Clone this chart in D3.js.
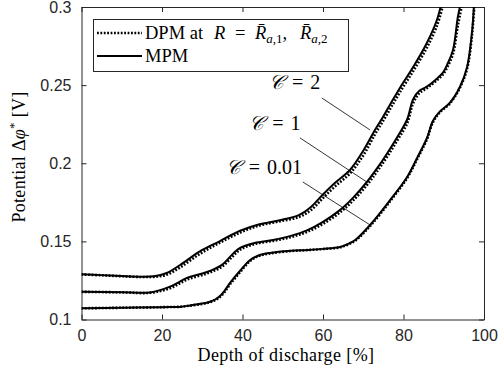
<!DOCTYPE html>
<html>
<head>
<meta charset="utf-8">
<script src="https://cdn.jsdelivr.net/npm/d3@7"></script>
<style>
  body { margin: 0; background: #fff; }
  svg { display: block; }
  .tick text { font-family: "Liberation Sans", Arial, sans-serif; font-size: 16px; fill: #262626; }
  .serif { font-family: "Liberation Serif", "DejaVu Serif", serif; fill: #000; }
</style>
</head>
<body>
<svg id="chart" width="498" height="374"></svg>
<script>
// ticks
let xTicks = [0, 20, 40, 60, 80, 100];
let yTicks = [0.1, 0.15, 0.2, 0.25, 0.3];

// MPM curves [depth %, potential V]
let mpmC2 = [[0,0.1289],[5,0.1284],[10,0.1278],[15,0.1274],[18,0.1277],[21,0.1296],[24.5,0.1349],[29.4,0.1436],[34.4,0.1502],[39.4,0.1568],[44,0.1608],[49,0.1634],[54,0.1668],[57,0.1720],[59.8,0.1795],[63,0.1875],[66.7,0.1957],[70,0.2080],[72.9,0.2213],[74.9,0.2296],[77,0.2390],[79.1,0.2482],[82.4,0.2616],[85.8,0.2770],[88.3,0.2917],[89.3,0.3010]];
let mpmC1 = [[0,0.1178],[10,0.1175],[17,0.1173],[22,0.1210],[26.2,0.1266],[31.2,0.1304],[34.9,0.1350],[37.6,0.1420],[39.4,0.1458],[43,0.1490],[47.6,0.1509],[52,0.1535],[56,0.1570],[60,0.1625],[64.2,0.1700],[67.5,0.1780],[70.9,0.1880],[73.5,0.1970],[76,0.2066],[78.5,0.2170],[80.9,0.2280],[82.4,0.2410],[84,0.2465],[85.8,0.2490],[88,0.2535],[89.8,0.2580],[91,0.2640],[92.3,0.2725],[93.5,0.2936],[94.1,0.3010]];
let mpmC001 = [[0,0.1072],[10,0.1075],[20,0.1079],[24.8,0.1082],[27,0.1090],[30,0.1102],[31.9,0.1114],[33.2,0.1128],[34.4,0.1150],[35.6,0.1186],[36.9,0.1234],[39.4,0.1312],[41.9,0.1381],[44,0.1410],[46.8,0.1426],[52,0.1440],[56,0.1445],[60,0.1452],[64.2,0.1464],[66.7,0.1490],[68,0.1509],[71.7,0.1605],[76.7,0.1765],[80.9,0.1912],[83.5,0.2040],[85.8,0.2160],[87.3,0.2270],[89,0.2330],[91.5,0.2386],[94,0.2488],[95.8,0.2616],[97,0.2834],[97.5,0.3010]];

// DPM curves
let dpmC2 = [[0,0.1288],[5,0.1283],[10,0.1277],[15,0.1272],[18,0.1273],[21,0.1285],[24.5,0.1333],[29.4,0.1420],[34.4,0.1492],[39.4,0.1556],[44,0.1600],[49,0.1627],[54,0.1656],[57,0.1700],[59.8,0.1772],[63,0.1852],[66.7,0.1935],[70,0.2050],[72.9,0.2185],[74.9,0.2270],[77,0.2362],[79.1,0.2455],[82.4,0.2590],[85.8,0.2740],[88.3,0.2880],[89.8,0.3010]];
let dpmC1 = [[0,0.1177],[10,0.1174],[17,0.1171],[22,0.1200],[26.2,0.1255],[31.2,0.1295],[34.9,0.1338],[37.6,0.1405],[39.4,0.1447],[43,0.1483],[47.6,0.1503],[52,0.1527],[56,0.1560],[60,0.1612],[64.2,0.1685],[67.5,0.1762],[70.9,0.1860],[73.5,0.1950],[76,0.2045],[78.5,0.2148],[80.9,0.2255],[82.4,0.2385],[84,0.2450],[85.8,0.2480],[88,0.2525],[89.8,0.2568],[91,0.2622],[92.3,0.2700],[93.5,0.2880],[94.5,0.3010]];
let dpmC001 = [[0,0.1072],[10,0.1075],[20,0.1079],[24.8,0.1082],[27,0.1089],[30,0.1100],[31.9,0.1111],[33.2,0.1124],[34.4,0.1144],[35.6,0.1178],[36.9,0.1225],[39.4,0.1303],[41.9,0.1375],[44,0.1406],[46.8,0.1423],[52,0.1438],[56,0.1444],[60,0.1451],[64.2,0.1462],[66.7,0.1486],[68,0.1504],[71.7,0.1598],[76.7,0.1758],[80.9,0.1905],[83.5,0.2032],[85.8,0.2152],[87.3,0.2262],[89,0.2325],[91.5,0.2382],[94,0.2482],[95.8,0.2605],[97,0.2815],[97.6,0.3010]];

// annotation labels: value text, text anchor point (end), leader line from -> to
let notes = [
  { val: '2',    tx: 59.3, ty: 0.2475, from: [59.7, 0.2418], to: [71.7, 0.2213] },
  { val: '1',    tx: 54.4, ty: 0.2215, from: [54.3, 0.2162], to: [70.9, 0.1880] },
  { val: '0.01', tx: 54.8, ty: 0.1932, from: [55.0, 0.1880], to: [71.7, 0.1605] }
];

let svg = d3.select('#chart');
let mLeft = 81.5, mRight = 484, mTop = 7, mBottom = 319.5;

let x = d3.scaleLinear().domain([0, 100]).range([mLeft, mRight]);
let y = d3.scaleLinear().domain([0.1, 0.3]).range([mBottom, mTop]);

svg.append('defs').append('clipPath').attr('id', 'clip')
  .append('rect').attr('x', mLeft).attr('y', mTop).attr('width', mRight - mLeft).attr('height', mBottom - mTop);

// axes with inward ticks, box on
let axisCol = '#262626';
let xAxis = svg.append('g').attr('transform', `translate(0,${mBottom})`)
  .call(d3.axisBottom(x).tickValues(xTicks).tickSizeInner(-5).tickSizeOuter(0).tickPadding(10).tickFormat(d3.format('d')));
let yAxis = svg.append('g').attr('transform', `translate(${mLeft},0)`)
  .call(d3.axisLeft(y).tickValues(yTicks).tickSizeInner(-5).tickSizeOuter(0).tickPadding(10).tickFormat(d => String(+d.toFixed(2))));
let xTop = svg.append('g').attr('transform', `translate(0,${mTop})`)
  .call(d3.axisTop(x).tickValues(xTicks).tickSizeInner(-5).tickSizeOuter(0).tickFormat(''));
let yRight = svg.append('g').attr('transform', `translate(${mRight},0)`)
  .call(d3.axisRight(y).tickValues(yTicks).tickSizeInner(-5).tickSizeOuter(0).tickFormat(''));
[xAxis, yAxis, xTop, yRight].forEach(g => {
  g.selectAll('path, line').attr('stroke', axisCol).attr('stroke-width', 1);
});

// curves
let lineFn = d3.line()
  .x(d => x(d[0]))
  .y(d => y(d[1]))
  .curve(d3.curveCatmullRom.alpha(0.5));

let plot = svg.append('g').attr('clip-path', 'url(#clip)');
[dpmC2, dpmC1, dpmC001].forEach(s => {
  plot.append('path').attr('d', lineFn(s))
    .attr('fill', 'none').attr('stroke', '#000')
    .attr('stroke-width', 2.6).attr('stroke-dasharray', '1.8,1.6');
});
[mpmC2, mpmC1, mpmC001].forEach(s => {
  plot.append('path').attr('d', lineFn(s))
    .attr('fill', 'none').attr('stroke', '#000')
    .attr('stroke-width', 2);
});

// annotations
notes.forEach(n => {
  svg.append('line')
    .attr('x1', x(n.from[0])).attr('y1', y(n.from[1]))
    .attr('x2', x(n.to[0])).attr('y2', y(n.to[1]))
    .attr('stroke', '#000').attr('stroke-width', 0.8);
  let t = svg.append('text').attr('class', 'serif')
    .attr('x', x(n.tx)).attr('y', y(n.ty))
    .attr('text-anchor', 'end').style('font-size', '20px');
  t.append('tspan').style('font-style', 'italic').text('𝒞');
  t.append('tspan').attr('dx', 8).text('=');
  t.append('tspan').attr('dx', 7).text(n.val);
});

// legend
let lg = svg.append('g');
lg.append('rect').attr('x', 93.5).attr('y', 19.5).attr('width', 255).attr('height', 52)
  .attr('fill', '#fff').attr('stroke', axisCol).attr('stroke-width', 1);
lg.append('line').attr('x1', 97).attr('x2', 142).attr('y1', 33).attr('y2', 33)
  .attr('stroke', '#000').attr('stroke-width', 2.6).attr('stroke-dasharray', '1.8,1.6');
lg.append('line').attr('x1', 97).attr('x2', 142).attr('y1', 56).attr('y2', 56)
  .attr('stroke', '#000').attr('stroke-width', 2);

let lgY = 39, fs = '18.5px', fsSub = '13px';
let t1 = lg.append('text').attr('class', 'serif').attr('y', lgY).style('font-size', fs);
t1.append('tspan').attr('x', 145).text('DPM at');
t1.append('tspan').attr('x', 214).style('font-style', 'italic').text('R');
t1.append('tspan').attr('x', 235).text('=');
t1.append('tspan').attr('x', 255).style('font-style', 'italic').text('R\u0304');
t1.append('tspan').style('font-style', 'italic').style('font-size', fsSub).attr('dy', 4).text('a');
t1.append('tspan').style('font-size', fsSub).text(',1');
t1.append('tspan').attr('dy', -4).text(',');
t1.append('tspan').attr('x', 300).style('font-style', 'italic').text('R\u0304');
t1.append('tspan').style('font-style', 'italic').style('font-size', fsSub).attr('dy', 4).text('a');
t1.append('tspan').style('font-size', fsSub).text(',2');

lg.append('text').attr('class', 'serif').attr('x', 145).attr('y', 62).style('font-size', fs).text('MPM');

// axis labels
svg.append('text').attr('class', 'serif')
  .attr('x', 286).attr('y', 361)
  .attr('text-anchor', 'middle').style('font-size', '18px').style('letter-spacing', '0.4px')
  .text('Depth of discharge [%]');

let yl = svg.append('text').attr('class', 'serif')
  .attr('transform', `translate(25,157)rotate(-90)`)
  .attr('text-anchor', 'middle').style('font-size', '18px').style('letter-spacing', '0.3px');
yl.append('tspan').text('Potential Δ');
yl.append('tspan').style('font-style', 'italic').text('φ');
yl.append('tspan').style('font-size', '13px').attr('dy', -7).text('*');
yl.append('tspan').attr('dy', 7).text(' [V]');
</script>
</body>
</html>
